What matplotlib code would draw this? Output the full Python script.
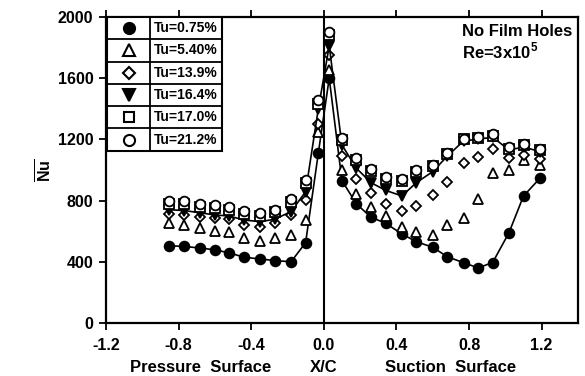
import matplotlib
matplotlib.use("Agg")
import matplotlib.pyplot as plt
from matplotlib.patches import Rectangle

# Nu vs X/C, no film holes, Re = 3e5
# stations: pressure side, leading edge, suction side
x_c = [-0.85, -0.77, -0.68, -0.60, -0.52, -0.44, -0.35, -0.27, -0.18, -0.10, -0.03,
       0.03,
       0.10, 0.18, 0.26, 0.34, 0.43, 0.51, 0.60, 0.68, 0.77, 0.85, 0.93, 1.02, 1.10, 1.19]

nu_tu075 = [505, 500, 490, 478, 458, 430, 418, 408, 400, 525, 1110,
            1600,
            930, 778, 691, 652, 582, 531, 495, 433, 394, 360, 395, 590, 830, 945]
nu_tu540 = [651, 641, 619, 601, 597, 554, 538, 554, 575, 673, 1250,
            1650,
            1000, 843, 756, 699, 629, 597, 575, 641, 684, 808, 978, 1000, 1065, 1035]
nu_tu139 = [712, 706, 695, 684, 678, 641, 626, 651, 706, 804, 1300,
            1750,
            1091, 939, 852, 780, 732, 765, 837, 920, 1044, 1087, 1140, 1076, 1100, 1072]
nu_tu164 = [740, 735, 720, 706, 699, 673, 662, 678, 728, 858, 1400,
            1810,
            1163, 1011, 917, 867, 830, 917, 989, 1090, 1190, 1200, 1215, 1130, 1150, 1120]
nu_tu170 = [775, 780, 760, 752, 737, 712, 700, 722, 790, 915, 1430,
            1880,
            1195, 1065, 990, 940, 925, 985, 1025, 1105, 1200, 1210, 1225, 1140, 1165, 1130]
nu_tu212 = [795, 800, 778, 772, 755, 730, 718, 740, 810, 935, 1455,
            1900,
            1210, 1080, 1003, 955, 938, 1000, 1035, 1112, 1205, 1215, 1232, 1148, 1172, 1138]

labels = ["Tu=0.75%", "Tu=5.40%", "Tu=13.9%", "Tu=16.4%", "Tu=17.0%", "Tu=21.2%"]
series = [nu_tu075, nu_tu540, nu_tu139, nu_tu164, nu_tu170, nu_tu212]

# marker, face colour, connect with line
styles = [("o", "black", True), ("^", "white", False), ("D", "white", False),
          ("v", "black", True), ("s", "white", False), ("o", "white", False)]
sizes = [7, 7, 5.5, 7.5, 6.5, 7]

plt.rcParams["font.family"] = ["Liberation Sans", "DejaVu Sans"]
plt.rcParams["font.weight"] = "bold"
plt.rcParams["mathtext.fontset"] = "custom"
plt.rcParams["mathtext.rm"] = "Liberation Sans:bold"
plt.rcParams["mathtext.bf"] = "Liberation Sans:bold"

fig = plt.figure(figsize=(5.85, 3.76), dpi=100)
ax = fig.add_axes([0.181, 0.141, 0.807, 0.814])

ax.axvline(0, color="black", lw=1.5, zorder=1)

for vals, (mk, fc, line), ms in zip(series, styles, sizes):
    ax.plot(x_c, vals, linestyle="-" if line else "none", color="black", lw=1.2,
            marker=mk, markersize=ms, markerfacecolor=fc, markeredgecolor="black",
            markeredgewidth=1.3, zorder=3, clip_on=False)

ax.set_xlim(-1.2, 1.4)
ax.set_ylim(0, 2000)
ax.set_xticks([-1.2, -0.8, -0.4, 0.0, 0.4, 0.8, 1.2])
ax.set_yticks([0, 400, 800, 1200, 1600, 2000])
ax.xaxis.set_major_formatter(plt.FuncFormatter(lambda v, p: f"{v:.1f}"))
ax.tick_params(axis="both", direction="out", length=5, width=1.3, labelsize=11.5, pad=4)
ax.tick_params(axis="x", top=True, pad=6)
for s in ax.spines.values():
    s.set_linewidth(1.6)

ax.set_ylabel(r"$\overline{\mathbf{Nu}}$", fontsize=11.5, labelpad=2)

trans = ax.get_xaxis_transform()
ax.text(-0.68, -0.147, "Pressure  Surface", transform=trans, ha="center", va="center", fontsize=12)
ax.text(0.0, -0.147, "X/C", transform=trans, ha="center", va="center", fontsize=12)
ax.text(0.70, -0.147, "Suction  Surface", transform=trans, ha="center", va="center", fontsize=12)

ax.text(0.754, 0.952, "No Film Holes", transform=ax.transAxes, ha="left", va="center", fontsize=12)
ax.text(0.754, 0.887, r"Re=3x10$^{\mathbf{5}}$", transform=ax.transAxes, ha="left", va="center", fontsize=12)

# table-style legend in the upper left corner
x0, xdiv, x1 = 0.003, 0.093, 0.245
y_top, y_bot = 1.0, 0.563
row_h = (y_top - y_bot) / len(labels)
ax.add_patch(Rectangle((x0, y_bot), x1 - x0, y_top - y_bot, transform=ax.transAxes,
                       fill=True, facecolor="white", edgecolor="black", lw=1.5, zorder=5))
ax.plot([xdiv, xdiv], [y_bot, y_top], transform=ax.transAxes, color="black", lw=1.3, zorder=6)
for i, (lab, (mk, fc, line), ms) in enumerate(zip(labels, styles, sizes)):
    yc = y_top - (i + 0.5) * row_h
    if i > 0:
        ax.plot([x0, x1], [y_top - i * row_h] * 2, transform=ax.transAxes,
                color="black", lw=1.3, zorder=6)
    ax.plot([(x0 + xdiv) / 2], [yc], transform=ax.transAxes, marker=mk, markersize=ms + 1,
            markerfacecolor=fc, markeredgecolor="black", markeredgewidth=1.5,
            linestyle="none", zorder=7, clip_on=False)
    ax.text(xdiv + 0.008, yc, lab, transform=ax.transAxes, ha="left", va="center",
            fontsize=10, zorder=7)

fig.savefig("out.png", dpi=100)
